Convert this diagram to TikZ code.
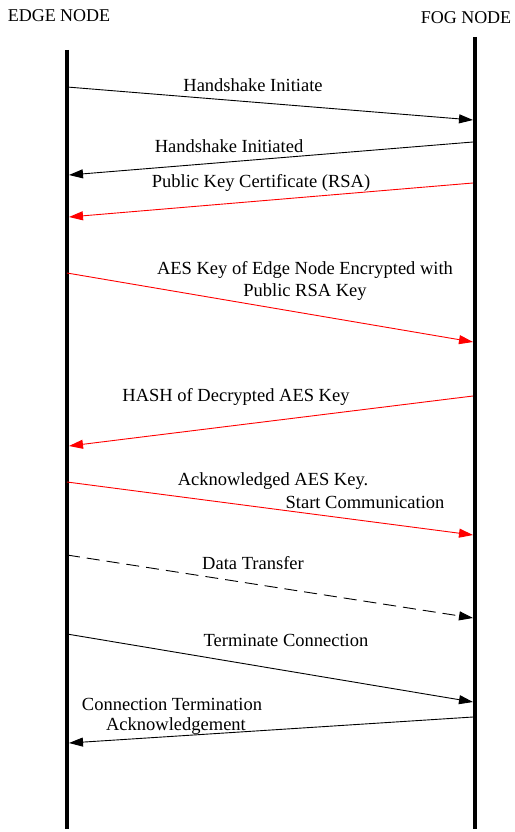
\documentclass[tikz,border=0pt]{standalone}
\usepackage{fontspec}
\setmainfont{Liberation Serif}
\usetikzlibrary{arrows.meta}
\begin{document}
\begin{tikzpicture}[x=1pt,y=-1pt,
  lifeline/.style={line width=4pt},
  msg/.style={line width=0.9pt,-{Triangle[length=14pt,width=9pt]}},
  redmsg/.style={msg,red},
  datamsg/.style={msg,dash pattern=on 13pt off 7pt},
  lbl/.style={font=\fontsize{18.5}{20}\selectfont,inner sep=0pt},
  head/.style={font=\fontsize{18}{20}\selectfont,inner sep=0pt}]
\useasboundingbox (0,0) rectangle (514,832);
\node[head] (edge) at (59,16) {EDGE NODE};
\node[head] (fog) at (466,18) {FOG NODE};
\coordinate (eTop) at (67,50);
\coordinate (eBot) at (67,829);
\coordinate (fTop) at (475,37);
\coordinate (fBot) at (475,829);
\draw[lifeline] (eTop) -- (eBot);
\draw[lifeline] (fTop) -- (fBot);
% message end points
\coordinate (e1) at (67,87);   \coordinate (f1) at (473,120);
\coordinate (f2) at (473,142); \coordinate (e2) at (69,175);
\coordinate (f3) at (473,183); \coordinate (e3) at (69,217);
\coordinate (e4) at (67,273);  \coordinate (f4) at (473,342);
\coordinate (f5) at (473,396); \coordinate (e5) at (69,446);
\coordinate (e6) at (67,482);  \coordinate (f6) at (473,535);
\coordinate (e7) at (67,555);  \coordinate (f7) at (473,618);
\coordinate (e8) at (67,634);  \coordinate (f8) at (473,702);
\coordinate (f9) at (473,717); \coordinate (e9) at (69,743);
\draw[msg] (e1) -- (f1);
\draw[msg] (f2) -- (e2);
\draw[redmsg] (f3) -- (e3);
\draw[redmsg] (e4) -- (f4);
\draw[redmsg] (f5) -- (e5);
\draw[redmsg] (e6) -- (f6);
\draw[datamsg] (e7) -- (f7);
\draw[msg] (e8) -- (f8);
\draw[msg] (f9) -- (e9);
% labels
\node[lbl] (l1) at (253,85) {Handshake Initiate};
\node[lbl] (l2) at (229,146) {Handshake Initiated};
\node[lbl] (l3) at (261,183) {Public Key Certificate (RSA)};
\node[lbl] (l4a) at (305,270) {AES Key of Edge Node Encrypted with};
\node[lbl] (l4b) at (305,292) {Public RSA Key};
\node[lbl] (l5) at (236,397) {HASH of Decrypted AES Key};
\node[lbl] (l6a) at (273,481) {Acknowledged AES Key.};
\node[lbl] (l6b) at (365,502) {Start Communication};
\node[lbl] (l7) at (253,563) {Data Transfer};
\node[lbl] (l8) at (286,640) {Terminate Connection};
\node[lbl] (l9a) at (172,704) {Connection Termination};
\node[lbl] (l9b) at (176,726) {Acknowledgement};
\end{tikzpicture}
\end{document}
